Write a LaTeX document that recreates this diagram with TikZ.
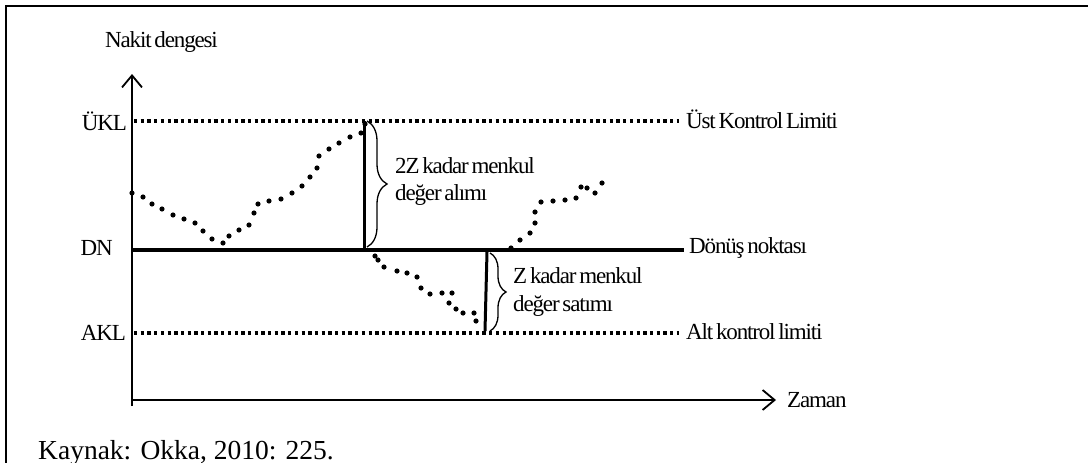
\documentclass[tikz,border=0pt]{standalone}
\usepackage{fontspec}
\setmainfont{Liberation Serif}
\newfontfamily\chartfont[LetterSpace=-5,WordSpace=0.6]{Liberation Serif}
\usetikzlibrary{positioning,arrows.meta,decorations.pathreplacing}
\tikzset{lbl/.style={inner sep=0pt,font=\chartfont\fontsize{23}{26}\selectfont},
    limitline/.style={line width=3.3pt,dash pattern=on 3.3pt off 3.4pt},
    axisline/.style={line width=1.8pt},
    turnline/.style={line width=3.6pt},
    zbrace/.style={decorate,decoration={brace,amplitude=#1},line width=1.3pt},
    }

\begin{document}
\begin{tikzpicture}[x=1pt,y=-1pt]
	\useasboundingbox (0,0) rectangle (1088,463);
	% frame
	\draw[line width=2pt] (6,463) -- (6,6) -- (1088,6);
	% axes
	\coordinate (o) at (132,400);
	\coordinate (ytop) at (132,74);
	\coordinate (xend) at (776,400);
	\draw[axisline,-{Straight Barb[length=12pt,width=20pt]}] (132,406) -- (ytop);
	\draw[axisline,-{Straight Barb[length=12pt,width=20pt]}] (o) -- (xend);
	\node[lbl,anchor=south west] (nakit) at (105,53) {Nakit dengesi};
	\node[lbl,right=11pt of xend] (zaman) {Zaman};
	% limits
	\coordinate (ukl-l) at (134,121); \coordinate (ukl-r) at (679,121);
	\coordinate (dn-l) at (132,250);  \coordinate (dn-r) at (684,250);
	\coordinate (akl-l) at (134,333); \coordinate (akl-r) at (679,333);
	\draw[limitline] (ukl-l) -- (ukl-r);
	\draw[turnline] (dn-l) -- (dn-r);
	\draw[limitline] (akl-l) -- (akl-r);
	\node[lbl,left=7pt of ukl-l] (ukl) {ÜKL};
	\node[lbl,left=19pt of dn-l,yshift=2pt] (dn) {DN};
	\node[lbl,left=8pt of akl-l] (akl) {AKL};
	\node[lbl,right=7pt of ukl-r,yshift=2pt] (ust) {Üst Kontrol Limiti};
	\node[lbl,right=5pt of dn-r,yshift=2pt] (donus) {Dönüş noktası};
	\node[lbl,right=7pt of akl-r,yshift=1pt] (alt) {Alt kontrol limiti};
	% cash balance
	\foreach \p in {(132,193),(143,197),(152,204),(162,209),(173,215),(184,219),
		(195,223),(203,231),(212,239),(223,243),(229,236),(239,230),(249,225),
		(254,213),(258,204),(269,201),(281,199),(292,193),(302,186),(310,177),
		(317,168),(319,156),(329,149),(339,143),(350,137),(361,133),(365,124)}
		\fill \p circle (2.6);
	\foreach \p in {(375,256),(378,260),(384,267),(397,271),(407,273),(417,277),
		(421,288),(430,294),(442,293),(452,293),(449,303),(456,309),(463,313),
		(474,313),(476,321)}
		\fill \p circle (2.6);
	\foreach \p in {(511,248),(520,240),(530,233),(535,223),(535,212),(541,202),
		(553,201),(565,200),(576,198),(581,187),(587,188),(595,193),(602,183)}
		\fill \p circle (2.6);
	% buy 2Z
	\coordinate (buy-t) at (364,121); \coordinate (buy-b) at (364,250);
	\draw[line width=3pt] (buy-b) -- (buy-t);
	\draw[zbrace=20pt] (367,121) -- (367,247);
	\node[lbl,anchor=west] (buy1) at (395,166) {2Z kadar menkul};
	\node[lbl,anchor=west] (buy2) at (395,195) {değer alımı};
	% sell Z
	\coordinate (sell-t) at (487,252); \coordinate (sell-b) at (485,331);
	\draw[line width=3pt] (sell-t) -- (sell-b);
	\draw[zbrace=16pt] (490,253) -- (490,331);
	\node[lbl,anchor=west] (sell1) at (513,276) {Z kadar menkul};
	\node[lbl,anchor=west] (sell2) at (513,306) {değer satımı};
	% source
	\node[anchor=base west,inner sep=0pt,font=\fontsize{27.5}{30}\selectfont] (kaynak) at (38,459) {Kaynak: Okka, 2010: 225.};
\end{tikzpicture}
\end{document}
